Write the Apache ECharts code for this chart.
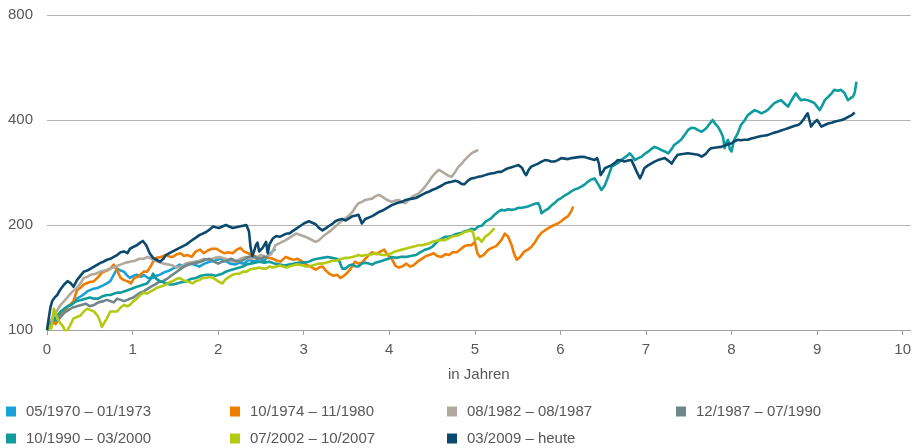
<!DOCTYPE html>
<html>
<head>
<meta charset="utf-8">
<script src="https://cdn.jsdelivr.net/npm/echarts@6/dist/echarts.min.js"></script>
<style>
html,body{margin:0;padding:0;background:#fff;}
#chart{width:914px;height:448px;}
</style>
</head>
<body>
<div id="chart"></div>
<script>
// ---- data: [years since start, index value (start = 100)] ----
const seriesNames = ['05/1970 – 01/1973','10/1974 – 11/1980','08/1982 – 08/1987','12/1987 – 07/1990','10/1990 – 03/2000','07/2002 – 10/2007','03/2009 – heute'];
const xTicks = [0,1,2,3,4,5,6,7,8,9,10];
const yTicks = [100,200,400,800];

const s1970 = [[0,100],[0.05,103],[0.1,108],[0.15,111],[0.2,113],[0.25,117],[0.3,119],[0.35,123],[0.42,126],[0.47,129],[0.53,131],[0.59,132],[0.65,134],[0.7,136],[0.74,138],[0.78,144],[0.82,150],[0.86,148],[0.9,147],[0.94,143],[0.97,141],[1.01,143],[1.05,144],[1.1,142],[1.13,144],[1.18,141],[1.24,141],[1.28,143],[1.32,144],[1.36,146],[1.39,147],[1.43,148],[1.47,150],[1.52,152],[1.55,154],[1.6,152],[1.67,155],[1.72,154],[1.78,152],[1.84,155],[1.9,157],[1.96,158],[2.02,160],[2.08,158],[2.14,155],[2.2,154],[2.25,156],[2.3,155],[2.36,159],[2.42,157],[2.48,160],[2.54,158],[2.6,165],[2.67,171]];

const s1974 = [[0,100],[0.04,106],[0.1,104],[0.15,109],[0.2,113],[0.25,117],[0.31,121],[0.35,130],[0.39,132],[0.43,135],[0.49,137],[0.55,138],[0.6,142],[0.64,146],[0.7,148],[0.74,150],[0.78,154],[0.82,148],[0.86,141],[0.9,139],[0.94,138],[0.98,136],[1.02,141],[1.06,142],[1.09,144],[1.13,147],[1.17,147],[1.21,152],[1.24,157],[1.28,161],[1.33,162],[1.39,164],[1.44,162],[1.47,162],[1.52,165],[1.56,166],[1.6,163],[1.64,164],[1.69,162],[1.74,168],[1.79,170],[1.83,166],[1.88,169],[1.93,171],[1.98,171],[2.03,168],[2.07,166],[2.12,167],[2.17,166],[2.22,170],[2.26,172],[2.3,168],[2.35,166],[2.4,164],[2.45,162],[2.49,160],[2.54,162],[2.59,161],[2.64,160],[2.69,158],[2.73,157],[2.79,162],[2.84,160],[2.88,159],[2.93,160],[2.97,158],[3.03,154],[3.08,152],[3.14,149],[3.18,151],[3.22,152],[3.26,148],[3.3,145],[3.35,143],[3.39,144],[3.43,141],[3.47,143],[3.51,146],[3.55,150],[3.6,157],[3.64,155],[3.68,156],[3.72,160],[3.76,164],[3.8,167],[3.85,165],[3.9,168],[3.94,170],[3.98,164],[4.03,160],[4.07,153],[4.11,151],[4.15,152],[4.2,155],[4.24,152],[4.28,153],[4.33,157],[4.38,160],[4.43,163],[4.47,164],[4.52,166],[4.56,163],[4.61,162],[4.66,165],[4.7,164],[4.74,167],[4.79,167],[4.84,171],[4.88,174],[4.92,175],[4.96,175],[5.0,179],[5.03,166],[5.06,162],[5.1,164],[5.16,170],[5.2,172],[5.25,174],[5.31,181],[5.35,189],[5.39,185],[5.43,175],[5.46,165],[5.49,159],[5.53,162],[5.58,168],[5.62,170],[5.66,173],[5.7,178],[5.74,185],[5.78,190],[5.82,193],[5.86,196],[5.89,198],[5.93,200],[5.97,202],[6.01,205],[6.05,209],[6.09,212],[6.11,216],[6.13,220],[6.15,226]];

const s1982 = [[0,100],[0.04,106],[0.08,110],[0.12,114],[0.16,118],[0.2,121],[0.25,125],[0.3,129],[0.35,132],[0.39,136],[0.43,141],[0.47,142],[0.51,144],[0.57,145],[0.62,147],[0.68,148],[0.74,150],[0.8,152],[0.86,154],[0.92,156],[0.97,157],[1.03,158],[1.08,160],[1.13,160],[1.18,162],[1.24,159],[1.3,157],[1.36,155],[1.42,154],[1.47,153],[1.52,151],[1.57,152],[1.62,155],[1.67,156],[1.72,157],[1.78,158],[1.84,160],[1.9,159],[1.96,161],[2.02,162],[2.08,160],[2.14,158],[2.2,157],[2.26,160],[2.32,162],[2.38,160],[2.44,161],[2.5,164],[2.56,162],[2.62,165],[2.67,175],[2.73,178],[2.79,181],[2.85,185],[2.91,189],[2.97,187],[3.02,185],[3.08,182],[3.14,179],[3.18,181],[3.22,185],[3.27,189],[3.32,193],[3.37,198],[3.41,202],[3.45,206],[3.49,209],[3.53,213],[3.57,218],[3.61,226],[3.64,231],[3.68,233],[3.72,236],[3.76,237],[3.8,238],[3.84,242],[3.88,244],[3.92,241],[3.95,238],[3.99,235],[4.03,233],[4.07,235],[4.11,236],[4.15,233],[4.19,231],[4.23,236],[4.27,241],[4.31,244],[4.34,246],[4.38,251],[4.42,258],[4.46,266],[4.5,275],[4.54,282],[4.58,288],[4.62,284],[4.65,281],[4.69,277],[4.73,275],[4.77,284],[4.81,294],[4.85,300],[4.88,307],[4.92,314],[4.96,321],[5.0,325],[5.04,328]];

const s1987 = [[0,100],[0.04,103],[0.08,107],[0.12,106],[0.16,109],[0.2,112],[0.25,114],[0.3,116],[0.35,117],[0.4,118],[0.45,119],[0.5,117],[0.55,118],[0.6,120],[0.66,121],[0.7,122],[0.74,121],[0.78,120],[0.82,123],[0.86,122],[0.9,121],[0.94,122],[0.97,123],[1.01,124],[1.05,126],[1.09,128],[1.13,129],[1.17,131],[1.21,133],[1.26,135],[1.3,137],[1.35,138],[1.4,140],[1.45,143],[1.5,146],[1.55,149],[1.6,152],[1.65,154],[1.7,155],[1.75,156],[1.8,157],[1.85,159],[1.9,160],[1.95,157],[2.0,155],[2.05,157],[2.1,158],[2.15,160],[2.2,158],[2.25,157],[2.3,159],[2.35,162],[2.4,163],[2.45,161],[2.5,160],[2.54,162],[2.58,161]];

const s1990 = [[0,100],[0.04,104],[0.08,107],[0.12,110],[0.16,113],[0.2,115],[0.24,117],[0.28,118],[0.32,120],[0.35,121],[0.4,122],[0.45,123],[0.5,124],[0.55,123],[0.6,123],[0.65,125],[0.7,126],[0.74,126],[0.78,127],[0.82,128],[0.86,128],[0.9,129],[0.94,130],[0.98,131],[1.01,132],[1.05,133],[1.09,134],[1.13,135],[1.17,136],[1.21,140],[1.24,145],[1.28,140],[1.32,138],[1.36,137],[1.4,136],[1.44,135],[1.47,135],[1.52,136],[1.57,137],[1.63,138],[1.68,140],[1.74,141],[1.8,143],[1.86,144],[1.92,144],[1.97,143],[2.01,144],[2.05,145],[2.09,147],[2.13,148],[2.17,149],[2.21,150],[2.25,151],[2.29,152],[2.33,154],[2.38,155],[2.43,156],[2.48,157],[2.54,156],[2.6,157],[2.66,155],[2.72,154],[2.78,153],[2.83,154],[2.89,155],[2.95,156],[3.0,156],[3.06,157],[3.11,159],[3.16,160],[3.22,161],[3.28,162],[3.33,161],[3.38,160],[3.41,159],[3.45,150],[3.49,150],[3.53,153],[3.57,154],[3.61,152],[3.64,152],[3.68,155],[3.72,156],[3.76,155],[3.8,154],[3.84,156],[3.88,157],[3.92,158],[3.95,159],[3.99,160],[4.03,162],[4.08,161],[4.13,162],[4.19,162],[4.25,163],[4.31,164],[4.36,167],[4.42,170],[4.46,171],[4.5,173],[4.54,177],[4.58,181],[4.62,183],[4.65,185],[4.69,185],[4.73,186],[4.77,188],[4.81,189],[4.85,190],[4.88,192],[4.92,193],[4.96,195],[5.0,194],[5.04,198],[5.08,199],[5.12,204],[5.16,207],[5.19,209],[5.23,214],[5.27,218],[5.31,221],[5.35,220],[5.39,222],[5.43,221],[5.47,222],[5.51,224],[5.55,224],[5.58,225],[5.62,226],[5.66,228],[5.7,230],[5.74,231],[5.76,226],[5.78,216],[5.82,220],[5.86,223],[5.9,228],[5.94,232],[5.97,236],[6.01,239],[6.05,243],[6.09,246],[6.13,250],[6.17,253],[6.21,255],[6.25,258],[6.29,262],[6.32,266],[6.36,270],[6.4,272],[6.44,262],[6.48,252],[6.52,260],[6.56,276],[6.6,294],[6.64,298],[6.68,302],[6.71,307],[6.75,312],[6.78,316],[6.81,321],[6.84,315],[6.87,307],[6.91,311],[6.95,314],[6.98,319],[7.02,324],[7.06,330],[7.1,335],[7.14,332],[7.18,328],[7.22,325],[7.26,321],[7.3,330],[7.33,339],[7.37,345],[7.41,351],[7.45,362],[7.49,374],[7.53,380],[7.57,379],[7.61,374],[7.65,370],[7.69,376],[7.72,383],[7.75,392],[7.78,400],[7.81,390],[7.84,383],[7.87,372],[7.9,358],[7.92,332],[7.94,345],[7.96,351],[7.98,330],[8.0,325],[8.03,351],[8.07,365],[8.11,387],[8.15,398],[8.19,413],[8.23,420],[8.27,427],[8.31,423],[8.35,418],[8.39,423],[8.42,427],[8.46,437],[8.5,447],[8.54,452],[8.58,456],[8.62,446],[8.66,437],[8.7,455],[8.75,477],[8.78,466],[8.81,456],[8.85,458],[8.89,456],[8.93,452],[8.97,447],[9.0,437],[9.03,427],[9.06,440],[9.09,456],[9.13,466],[9.17,477],[9.2,488],[9.24,485],[9.28,488],[9.32,478],[9.36,456],[9.39,462],[9.42,467],[9.44,480],[9.46,515]];

const s2002 = [[0,100],[0.03,103],[0.05,101],[0.08,115],[0.1,112],[0.12,108],[0.15,105],[0.18,103],[0.2,101],[0.22,98],[0.24,97],[0.27,103],[0.31,108],[0.35,109],[0.39,110],[0.43,113],[0.47,115],[0.51,114],[0.55,113],[0.59,110],[0.62,106],[0.64,102],[0.66,103],[0.7,108],[0.74,113],[0.78,113],[0.82,113],[0.86,116],[0.9,118],[0.94,117],[0.97,118],[1.01,121],[1.05,123],[1.09,126],[1.13,128],[1.17,127],[1.21,129],[1.24,130],[1.28,132],[1.32,133],[1.36,134],[1.39,135],[1.43,137],[1.47,138],[1.51,140],[1.55,141],[1.59,139],[1.63,138],[1.67,137],[1.7,136],[1.74,138],[1.78,139],[1.82,141],[1.86,141],[1.9,142],[1.94,141],[1.98,139],[2.02,137],[2.05,136],[2.09,140],[2.13,142],[2.17,144],[2.21,145],[2.25,145],[2.29,147],[2.33,147],[2.37,149],[2.41,150],[2.44,150],[2.48,151],[2.52,150],[2.56,150],[2.6,152],[2.64,151],[2.68,152],[2.72,153],[2.76,152],[2.8,151],[2.83,152],[2.87,153],[2.91,154],[2.95,154],[2.99,153],[3.03,152],[3.06,152],[3.1,153],[3.14,154],[3.18,155],[3.22,155],[3.26,156],[3.3,157],[3.34,158],[3.38,158],[3.41,159],[3.45,160],[3.49,161],[3.53,161],[3.57,162],[3.61,163],[3.64,164],[3.68,163],[3.72,164],[3.76,164],[3.8,165],[3.84,166],[3.88,165],[3.92,164],[3.95,164],[3.99,165],[4.03,166],[4.07,168],[4.11,169],[4.15,170],[4.19,171],[4.23,172],[4.27,173],[4.31,174],[4.34,175],[4.38,175],[4.42,176],[4.46,177],[4.5,179],[4.54,180],[4.58,181],[4.62,181],[4.65,181],[4.69,183],[4.73,185],[4.77,186],[4.81,187],[4.85,189],[4.88,191],[4.92,192],[4.96,193],[4.98,190],[5.0,181],[5.04,184],[5.08,179],[5.12,185],[5.16,188],[5.19,191],[5.23,196]];

const s2009 = [[0,100],[0.02,108],[0.04,116],[0.06,121],[0.09,124],[0.12,126],[0.15,130],[0.2,135],[0.24,138],[0.28,136],[0.31,133],[0.35,139],[0.39,143],[0.43,147],[0.47,148],[0.51,150],[0.55,152],[0.59,154],[0.63,156],[0.66,157],[0.7,159],[0.74,160],[0.78,162],[0.82,164],[0.86,167],[0.9,168],[0.94,166],[0.97,171],[1.01,173],[1.05,175],[1.09,178],[1.12,180],[1.16,175],[1.2,166],[1.24,161],[1.28,159],[1.32,157],[1.36,160],[1.39,164],[1.43,166],[1.47,168],[1.51,170],[1.55,172],[1.59,174],[1.63,176],[1.67,179],[1.71,182],[1.74,184],[1.78,187],[1.82,189],[1.86,191],[1.9,194],[1.94,198],[1.97,197],[2.01,196],[2.05,198],[2.09,200],[2.13,198],[2.17,196],[2.21,197],[2.25,198],[2.29,199],[2.33,200],[2.36,192],[2.38,172],[2.4,163],[2.42,168],[2.44,175],[2.46,178],[2.48,168],[2.52,172],[2.56,179],[2.58,166],[2.6,176],[2.64,183],[2.68,186],[2.72,185],[2.76,187],[2.8,189],[2.83,189],[2.87,192],[2.91,195],[2.95,198],[2.99,201],[3.02,203],[3.06,205],[3.1,203],[3.14,201],[3.18,196],[3.22,193],[3.26,196],[3.3,199],[3.34,202],[3.37,205],[3.41,207],[3.45,208],[3.49,206],[3.53,209],[3.57,212],[3.61,213],[3.64,214],[3.66,208],[3.68,202],[3.72,208],[3.76,210],[3.8,212],[3.84,215],[3.88,218],[3.92,220],[3.95,222],[3.99,225],[4.03,228],[4.07,230],[4.11,232],[4.15,233],[4.19,236],[4.23,237],[4.27,238],[4.31,239],[4.34,241],[4.38,244],[4.42,247],[4.46,249],[4.5,252],[4.54,254],[4.58,257],[4.62,260],[4.65,263],[4.69,265],[4.73,266],[4.77,268],[4.81,266],[4.85,262],[4.88,262],[4.92,268],[4.96,272],[5.0,273],[5.04,275],[5.08,276],[5.12,278],[5.16,280],[5.19,281],[5.23,282],[5.27,284],[5.31,284],[5.35,288],[5.39,291],[5.43,293],[5.47,295],[5.51,297],[5.55,292],[5.58,282],[5.6,278],[5.63,288],[5.66,294],[5.7,297],[5.74,300],[5.78,304],[5.82,307],[5.86,306],[5.89,304],[5.93,304],[5.97,307],[6.01,311],[6.05,310],[6.09,309],[6.13,311],[6.17,312],[6.21,313],[6.25,314],[6.29,313],[6.32,311],[6.36,309],[6.4,307],[6.43,311],[6.45,300],[6.47,278],[6.5,285],[6.52,291],[6.56,294],[6.6,297],[6.64,302],[6.67,307],[6.71,306],[6.75,304],[6.79,306],[6.83,307],[6.86,296],[6.89,285],[6.93,272],[6.96,282],[6.98,291],[7.02,296],[7.06,300],[7.1,304],[7.14,307],[7.18,309],[7.22,311],[7.26,306],[7.3,300],[7.33,308],[7.37,318],[7.41,319],[7.45,320],[7.49,321],[7.53,320],[7.57,319],[7.61,318],[7.65,314],[7.67,311],[7.7,320],[7.73,327],[7.76,332],[7.8,333],[7.84,334],[7.88,335],[7.92,338],[7.96,341],[8.0,343],[8.03,347],[8.07,351],[8.11,350],[8.15,351],[8.19,351],[8.23,354],[8.27,356],[8.31,358],[8.35,360],[8.39,361],[8.42,362],[8.46,365],[8.5,368],[8.54,370],[8.58,373],[8.62,376],[8.66,379],[8.7,382],[8.74,385],[8.78,387],[8.81,392],[8.85,404],[8.87,412],[8.89,418],[8.91,400],[8.93,383],[8.96,392],[9.0,400],[9.03,390],[9.05,383],[9.09,387],[9.13,391],[9.17,393],[9.21,396],[9.25,398],[9.29,400],[9.33,404],[9.37,409],[9.41,414],[9.44,420]];

// ---- styling ----
const seriesData = [s1970, s1974, s1982, s1987, s1990, s2002, s2009];
const seriesColors = ['#1aa1d8','#ee7d00','#b1a99e','#6f868a','#109c9e','#b4ca12','#0b4a6d'];
const FONT = '"Liberation Sans", Arial, sans-serif';
const TEXT = '#58585a';

const chart = echarts.init(document.getElementById('chart'), null, {renderer: 'canvas'});

const series = seriesNames.map((name, i) => ({
  name: name,
  type: 'line',
  // log axis with base 2: index expressed as multiple of the start value (100)
  data: seriesData[i].map(p => [p[0], p[1] / yTicks[0]]),
  showSymbol: false,
  symbol: 'none',
  lineStyle: {width: 2.6, color: seriesColors[i], join: 'round'},
  itemStyle: {color: seriesColors[i]},
  silent: true,
  z: 2 + i
}));

const legendBase = {
  orient: 'vertical',
  icon: 'rect',
  itemWidth: 10,
  itemHeight: 10,
  itemGap: 10,
  selectedMode: false,
  padding: 0,
  textStyle: {fontFamily: FONT, fontSize: 15, color: TEXT, padding: [0, 0, 0, 5], lineHeight: 17}
};

chart.setOption({
  animation: false,
  backgroundColor: '#fff',
  textStyle: {fontFamily: FONT},
  grid: {left: 47, right: 0, top: 15, bottom: 118, containLabel: false},
  xAxis: {
    type: 'value',
    min: xTicks[0],
    max: 10.093,
    interval: 1,
    name: 'in Jahren',
    nameLocation: 'middle',
    nameGap: 37,
    nameTextStyle: {fontFamily: FONT, fontSize: 15, color: TEXT},
    axisLine: {show: true, lineStyle: {color: '#a0a0a0', width: 1}},
    axisTick: {show: true, length: 5, inside: false, lineStyle: {color: '#a0a0a0'}},
    axisLabel: {
      margin: 12, fontFamily: FONT, fontSize: 15, color: TEXT, showMaxLabel: false,
      formatter: v => (xTicks.indexOf(v) >= 0 ? String(v) : '')
    },
    splitLine: {show: false}
  },
  yAxis: {
    type: 'log',
    logBase: 2,
    min: yTicks[0] / yTicks[0],
    max: yTicks[yTicks.length - 1] / yTicks[0],
    axisLine: {show: false},
    axisTick: {show: false},
    axisLabel: {
      margin: 14, fontFamily: FONT, fontSize: 15, color: TEXT,
      formatter: v => String(Math.round(v * yTicks[0]))
    },
    splitLine: {show: true, lineStyle: {color: '#b4b4b4', width: 1}}
  },
  legend: [
    Object.assign({}, legendBase, {left: 6, top: 403, data: [seriesNames[0], seriesNames[4]]}),
    Object.assign({}, legendBase, {left: 230, top: 403, data: [seriesNames[1], seriesNames[5]]}),
    Object.assign({}, legendBase, {left: 447, top: 403, data: [seriesNames[2], seriesNames[6]]}),
    Object.assign({}, legendBase, {left: 676, top: 403, data: [seriesNames[3]]})
  ],
  series: series
});
</script>
</body>
</html>
